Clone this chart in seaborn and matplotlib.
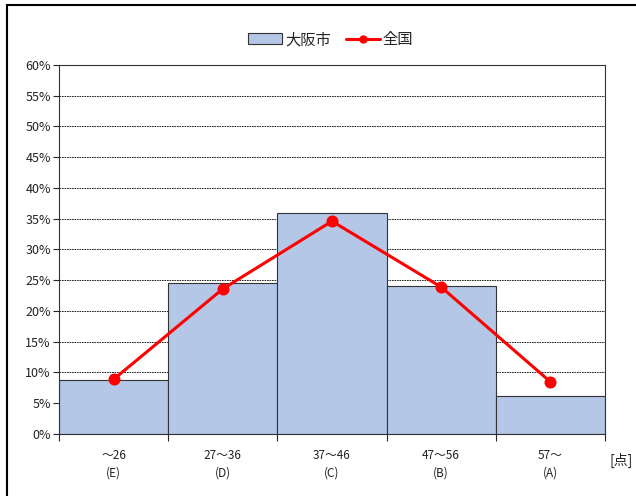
import numpy as np
import pandas as pd
import matplotlib
matplotlib.use("Agg")
import matplotlib.pyplot as plt
import seaborn as sns
from matplotlib.lines import Line2D
from matplotlib.patches import Patch

categories = ["～26\n(E)", "27～36\n(D)", "37～46\n(C)", "47～56\n(B)", "57～\n(A)"]
osaka = [8.8, 24.6, 35.9, 24.1, 6.2]
national = [8.9, 23.6, 34.6, 23.9, 8.5]

sns.set_style("white")
plt.rcParams['font.family'] = ['Noto Sans CJK JP', 'DejaVu Sans']

df = pd.DataFrame({"cat": categories, "osaka": osaka, "national": national})

fig = plt.figure(figsize=(6.36, 4.96), dpi=100)
ax = fig.add_axes([0.093, 0.125, 0.858, 0.744])

# outer frame (only top and left edges visible in the original crop)
fig.add_artist(Line2D([7 / 636, 7 / 636], [0, 1 - 5 / 496], transform=fig.transFigure,
                      color="black", linewidth=1.5))
fig.add_artist(Line2D([7 / 636, 1], [1 - 5 / 496, 1 - 5 / 496], transform=fig.transFigure,
                      color="black", linewidth=1.5))

sns.barplot(data=df, x="cat", y="osaka", color="#B4C7E7", width=1.0,
            edgecolor="#333333", linewidth=0.8, saturation=1, ax=ax, zorder=2)
sns.pointplot(data=df, x="cat", y="national", color="red", markers="o",
              linewidth=2.2, markersize=7, ax=ax, zorder=3)

ax.set_ylim(0, 60)
ax.set_xlim(-0.5, 4.5)
ax.set_yticks(np.arange(0, 61, 5))
ax.set_yticklabels([f"{v}%" for v in range(0, 61, 5)], fontsize=9, color="#222222")
ax.yaxis.grid(True, linestyle=(0, (2, 1)), color="black", linewidth=0.6, zorder=0)
ax.set_axisbelow(True)
ax.tick_params(axis="y", length=4, width=0.8, direction="out", left=True, pad=2)
ax.tick_params(axis="x", length=0, labelsize=8.5, pad=11, colors="#222222")
for lbl in ax.get_xticklabels():
    lbl.set_linespacing(1.4)
ax.set_xticks(np.arange(-0.5, 5, 1), minor=True)
ax.tick_params(axis="x", which="minor", length=5, width=0.8, direction="out", bottom=True)
for s in ax.spines.values():
    s.set_color("#333333")
    s.set_linewidth(0.8)
ax.set_xlabel("")
ax.set_ylabel("")

fig.text(0.958, 0.072, "[点]", fontsize=10, ha="left", va="center")

handles = [Patch(facecolor="#B4C7E7", edgecolor="#333333", linewidth=0.8),
           Line2D([0], [0], color="red", marker="o", linewidth=2.2, markersize=5)]
fig.legend(handles, ["大阪市", "全国"], loc="center", bbox_to_anchor=(0.52, 0.92),
           ncol=2, frameon=False, fontsize=11, handlelength=2.2, columnspacing=1.0,
           handletextpad=0.2)

fig.savefig("out.png", dpi=100)
